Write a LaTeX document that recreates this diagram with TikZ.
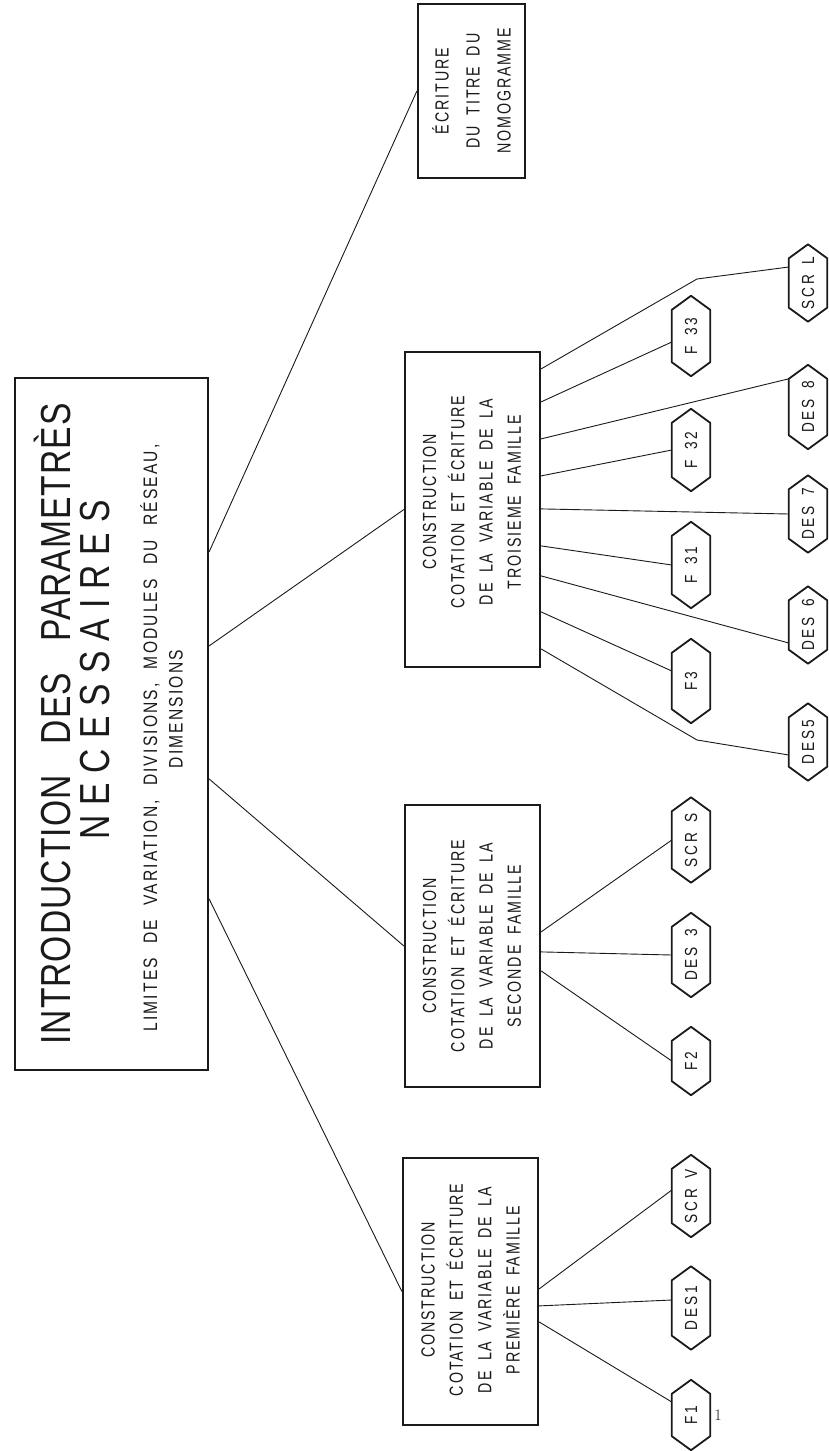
\documentclass[tikz,border=0pt]{standalone}
\usepackage{fontspec}
\usetikzlibrary{calc}
\newfontfamily\boxf[FakeStretch=0.75,LetterSpace=10,WordSpace=1.8]{Liberation Sans}
\newfontfamily\titf[FakeStretch=0.8,LetterSpace=2.5,WordSpace=3]{Liberation Sans}
\newfontfamily\necf[FakeStretch=0.8,LetterSpace=24]{Liberation Sans}
\newfontfamily\subf[FakeStretch=0.8,LetterSpace=11,WordSpace=2.2]{Liberation Sans}
\newfontfamily\hexf[FakeStretch=0.78,LetterSpace=16,WordSpace=1.6]{Liberation Sans}
\definecolor{ink}{HTML}{1A1A1A}
\newcommand{\hexa}[5]{%
  \node[hexin, minimum height=#4pt] (#1) at (#2,#3) {\rotatebox{90}{#5}};
  \draw[hexline] (#1.north) -- ($(#1.north east)+(0,14)$) -- ($(#1.south east)+(0,-14)$)
    -- (#1.south) -- ($(#1.south west)+(0,-14)$) -- ($(#1.north west)+(0,14)$) -- cycle;}
\begin{document}
\begin{tikzpicture}[x=1pt,y=-1pt,
  bigbox/.style={draw=ink, line width=2.2pt, inner sep=0pt},
  boxtext/.style={rotate=90, align=center, inner sep=0pt, text=ink,
    font=\boxf\fontsize{19}{28.3}\selectfont},
  hexin/.style={draw=none, minimum width=38pt, inner sep=0pt, text=ink,
    font=\hexf\fontsize{17.5}{17.5}\selectfont},
  hexline/.style={draw=ink, line width=1.8pt, line join=round},
  conn/.style={draw=ink, line width=0.9pt}]
\useasboundingbox (0,0) rectangle (829,1451);
\fill[white] (0,0) rectangle (829,1451);

% main box
\node[bigbox, minimum width=193pt, minimum height=692pt] (M) at (111.5,724) {};
\node[rotate=90, inner sep=0pt, text=ink, font=\titf\fontsize{42}{42}\selectfont] (Mt1) at (52,724) {INTRODUCTION DES PARAMETRÈS};
\node[rotate=90, inner sep=0pt, text=ink, font=\necf\fontsize{42}{42}\selectfont] (Mt2) at (95,670) {NECESSAIRES};
\node[rotate=90, inner sep=0pt, text=ink, font=\subf\fontsize{19.5}{19.5}\selectfont] (Mt3) at (150,738) {LIMITES DE VARIATION, DIVISIONS, MODULES DU RÉSEAU,};
\node[rotate=90, inner sep=0pt, text=ink, font=\subf\fontsize{19.5}{19.5}\selectfont] (Mt4) at (176,709) {DIMENSIONS};

% title box
\node[bigbox, minimum width=107pt, minimum height=174pt] (T0) at (471.5,91) {};
\node[boxtext, font=\boxf\fontsize{19}{31}\selectfont] (T0t) at (471.5,91) {ÉCRITURE\\DU TITRE DU\\NOMOGRAMME};

% family boxes
\node[bigbox, minimum width=135pt, minimum height=315pt] (T3) at (472.5,509.5) {};
\node[boxtext] (T3t) at (472,502) {CONSTRUCTION\\COTATION ET ÉCRITURE\\DE LA VARIABLE DE LA\\TROISIEME FAMILLE};
\node[bigbox, minimum width=135pt, minimum height=282pt] (T2) at (472.5,946) {};
\node[boxtext] (T2t) at (472,946) {CONSTRUCTION\\COTATION ET ÉCRITURE\\DE LA VARIABLE DE LA\\SECONDE FAMILLE};
\node[bigbox, minimum width=135pt, minimum height=267pt] (T1) at (470.5,1291.5) {};
\node[boxtext] (T1t) at (470.5,1290) {CONSTRUCTION\\COTATION ET ÉCRITURE\\DE LA VARIABLE DE LA\\PREMIÈRE FAMILLE};

% hexagons, outer column
\hexa{SCRL}{808}{283}{77}{SCR L}
\hexa{DES8}{808}{407}{84}{DES 8}
\hexa{DES7}{808}{514}{77}{DES 7}
\hexa{DES6}{808}{625}{77}{DES 6}
\hexa{DES5}{808}{742}{77}{DES5}
% hexagons, inner column
\hexa{F33}{691}{336}{80}{F 33}
\hexa{F32}{691}{450}{82}{F 32}
\hexa{F31}{691}{565}{86}{F 31}
\hexa{F3}{691}{681}{84}{F3}
\hexa{SCRS}{691}{840}{85}{SCR S}
\hexa{DES3}{691}{955}{84}{DES 3}
\hexa{F2}{691}{1061}{68}{F2}
\hexa{SCRV}{691}{1196}{82}{SCR V}
\hexa{DES1}{691}{1308}{83}{DES1}
\hexa{F1}{691}{1415}{70}{F1}

% connectors from main box
\draw[conn] ($(M.north east)+(0,175)$) -- (T0.west);
\draw[conn] ($(M.north east)+(0,269)$) -- (T3.west);
\draw[conn] ($(M.north east)+(0,402)$) -- (T2.west);
\draw[conn] ($(M.north east)+(0,522)$) -- (T1.west);

% third family
\coordinate (bL) at (697,279);
\coordinate (b5) at (697,740);
\draw[conn] ($(T3.north east)+(0,18)$) -- (bL) -- ($(SCRL.west)+(0,-16)$);
\draw[conn] ($(T3.north east)+(0,51)$) -- ($(F33.west)+(0,6)$);
\draw[conn] ($(T3.north east)+(0,88)$) -- ($(DES8.north west)+(0,14)$);
\draw[conn] ($(T3.north east)+(0,125)$) -- (F32.west);
\draw[conn] ($(T3.north east)+(0,158)$) -- (DES7.west);
\draw[conn] ($(T3.north east)+(0,195)$) -- (F31.west);
\draw[conn] ($(T3.north east)+(0,225)$) -- ($(DES6.west)+(0,18)$);
\draw[conn] ($(T3.north east)+(0,261)$) -- ($(F3.west)+(0,-10)$);
\draw[conn] ($(T3.north east)+(0,298)$) -- (b5) -- ($(DES5.west)+(0,13)$);

% second family
\draw[conn] ($(T2.north east)+(0,128)$) -- (SCRS.west);
\draw[conn] ($(T2.north east)+(0,148)$) -- (DES3.west);
\draw[conn] ($(T2.north east)+(0,167)$) -- (F2.west);

% first family
\draw[conn] ($(T1.north east)+(0,132)$) -- ($(SCRV.west)+(0,-6)$);
\draw[conn] ($(T1.north east)+(0,149)$) -- ($(DES1.west)+(0,-8)$);
\draw[conn] ($(T1.north east)+(0,165)$) -- ($(F1.west)+(0,-13)$);

% page number
\node[inner sep=0pt, text=ink, font=\fontsize{16}{16}\selectfont] (pg) at (718,1415) {1};
\end{tikzpicture}
\end{document}
